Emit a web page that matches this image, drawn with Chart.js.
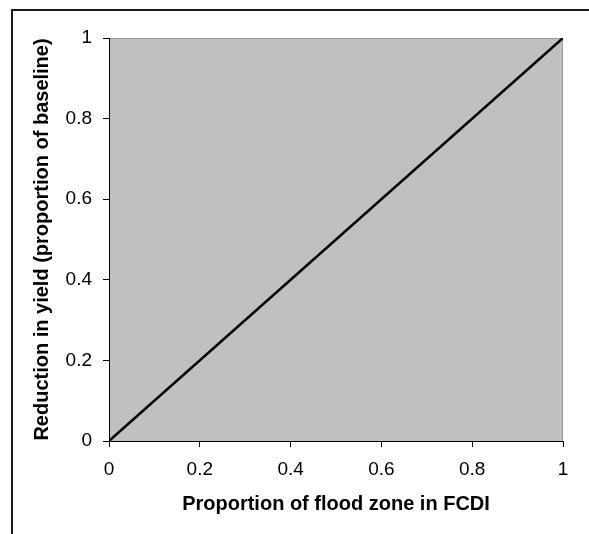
<!DOCTYPE html>
<html>
<head>
<meta charset="utf-8">
<script src="https://cdn.jsdelivr.net/npm/chart.js@4"></script>
<style>
  html, body { margin: 0; padding: 0; background: #fff; }
  #wrap { width: 589px; height: 534px; }
</style>
</head>
<body>
<div id="wrap"><canvas id="chart" width="589" height="534"></canvas></div>
<script>
// data: a straight 1:1 line
const floodShare = [0, 1];
const yieldLoss = [0, 1];
const tickValues = [0, 0.2, 0.4, 0.6, 0.8, 1];

const xTitle = 'Proportion of flood zone in FCDI';
const yTitle = 'Reduction in yield (proportion of baseline)';

// grey plot area + the outer frame (only top and left edges are visible)
const backdrop = {
  id: 'backdrop',
  beforeDraw(chart) {
    const ctx = chart.ctx;
    const a = chart.chartArea;
    ctx.save();
    ctx.fillStyle = '#c0c0c0';
    ctx.fillRect(a.left, a.top, a.right - a.left, a.bottom - a.top);
    ctx.strokeStyle = '#999';
    ctx.lineWidth = 1;
    ctx.beginPath();
    ctx.moveTo(a.left, a.top + 0.5);
    ctx.lineTo(a.right - 0.5, a.top + 0.5);
    ctx.lineTo(a.right - 0.5, a.bottom);
    ctx.stroke();

    ctx.strokeStyle = '#1a1a1a';
    ctx.lineWidth = 2;
    ctx.beginPath();
    ctx.moveTo(12, chart.height);
    ctx.lineTo(12, 10);
    ctx.lineTo(chart.width, 10);
    ctx.stroke();
    ctx.restore();
  }
};

const tickFont = { family: 'Liberation Sans', size: 19 };
const titleFont = { family: 'Liberation Sans', size: 20, weight: 'bold' };

new Chart(document.getElementById('chart'), {
  type: 'scatter',
  data: {
    datasets: [{
      data: floodShare.map((x, i) => ({ x: x, y: yieldLoss[i] })),
      showLine: true,
      borderColor: '#000',
      borderWidth: 2.5,
      pointRadius: 0
    }]
  },
  options: {
    responsive: false,
    animation: false,
    layout: { padding: { left: 26, top: 38, right: 26, bottom: 14 } },
    plugins: { legend: { display: false }, tooltip: { enabled: false } },
    scales: {
      x: {
        type: 'linear',
        min: 0,
        max: 1,
        afterBuildTicks: s => { s.ticks = tickValues.map(v => ({ value: v })); },
        afterFit: s => { s.height = 79; },
        border: { color: '#000', width: 1 },
        grid: { drawOnChartArea: false, drawTicks: true, tickLength: 6, color: '#000' },
        ticks: {
          font: tickFont,
          color: '#000',
          padding: 11,
          maxRotation: 0,
          callback: v => String(+v.toFixed(1))
        },
        title: { display: true, text: xTitle, font: titleFont, color: '#000' }
      },
      y: {
        type: 'linear',
        min: 0,
        max: 1,
        afterBuildTicks: s => { s.ticks = tickValues.map(v => ({ value: v })); },
        afterFit: s => { s.width = 83; },
        border: { color: '#000', width: 1 },
        grid: { drawOnChartArea: false, drawTicks: true, tickLength: 6, color: '#000' },
        ticks: {
          font: tickFont,
          color: '#000',
          padding: 11,
          callback: v => String(+v.toFixed(1))
        },
        title: { display: true, text: yTitle, font: titleFont, color: '#000' }
      }
    }
  },
  plugins: [backdrop]
});
</script>
</body>
</html>
